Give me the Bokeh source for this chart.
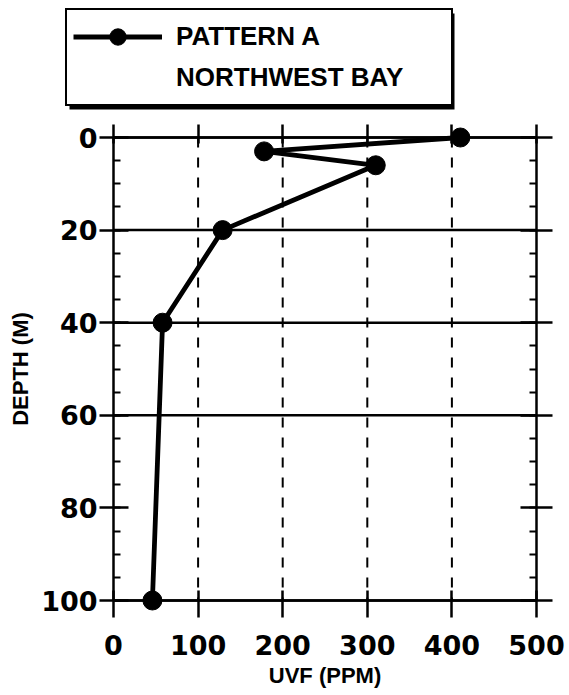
from bokeh.plotting import figure
from bokeh.models import (Range1d, LinearAxis, FixedTicker, SingleIntervalTicker, Legend,
                          LegendItem, BoxAnnotation, CustomJSTickFormatter)
from bokeh.embed import file_html
from bokeh.resources import INLINE

# ---- data ----
uvf = [410, 178, 310, 129, 58, 46]
depth = [0, 3, 6, 20, 40, 100]
x_ticks = [0, 100, 200, 300, 400, 500]
y_ticks = [0, 20, 40, 60, 80, 100]
y_grid = [0, 20, 40, 60, 100]
x_grid = [100, 200, 300, 400]
legend_lines = ["PATTERN A", "NORTHWEST BAY"]
x_label = "UVF (PPM)"
y_label = "DEPTH (M)"

W, H = 569, 695
# plot box (0..500, 0..100) placed at canvas px x 113..536, y 137..600
PX0, PX1, PY0, PY1 = 113, 536, 137, 600
sx = (PX1 - PX0) / 500.0
sy = (PY1 - PY0) / 100.0

p = figure(width=W, height=H, output_backend="svg", toolbar_location=None,
           x_axis_type=None, y_axis_type=None,
           x_range=Range1d(-PX0 / sx, 500 + (W - PX1) / sx),
           y_range=Range1d(100 + (H - PY1) / sy, -PY0 / sy),
           min_border=0)
p.outline_line_color = None
p.background_fill_color = "white"
p.border_fill_color = "white"

TICK_FONT = "DejaVu Sans"
LAB_FONT = "Liberation Sans"
blank = CustomJSTickFormatter(code="return ''")

xmin, xmax = x_ticks[0], x_ticks[-1]
ymin, ymax = y_ticks[0], y_ticks[-1]

# grid lines limited to the plot box
p.segment(x0=[xmin] * len(y_grid), x1=[xmax] * len(y_grid), y0=y_grid, y1=y_grid,
          line_color="black", line_width=2.5)
p.segment(x0=x_grid, x1=x_grid, y0=[ymin] * len(x_grid), y1=[ymax] * len(x_grid),
          line_color="black", line_width=2, line_dash="10 10")

# left axis
ya = LinearAxis(ticker=SingleIntervalTicker(interval=20, num_minor_ticks=4),
                fixed_location=xmin, bounds=(ymin, ymax),
                axis_line_width=2.5, major_tick_line_width=2.5,
                major_tick_out=14, major_tick_in=15, minor_tick_in=7, minor_tick_out=0,
                minor_tick_line_width=2,
                major_label_text_font=TICK_FONT, major_label_text_font_style="bold",
                major_label_text_font_size="27px", major_label_text_color="black",
                major_label_standoff=2,
                axis_label=y_label, axis_label_text_font=LAB_FONT,
                axis_label_text_font_style="bold", axis_label_text_font_size="22px",
                axis_label_text_color="black", axis_label_standoff=5)
p.add_layout(ya, "left")

# bottom axis
xa = LinearAxis(ticker=FixedTicker(ticks=x_ticks), fixed_location=ymax, bounds=(xmin, xmax),
                axis_line_width=2.5, major_tick_line_width=2.5,
                major_tick_out=17, major_tick_in=10, minor_tick_in=0, minor_tick_out=0,
                major_label_text_font=TICK_FONT, major_label_text_font_style="bold",
                major_label_text_font_size="27px", major_label_text_color="black",
                major_label_standoff=17,
                axis_label=x_label, axis_label_text_font=LAB_FONT,
                axis_label_text_font_style="bold", axis_label_text_font_size="22px",
                axis_label_text_color="black", axis_label_standoff=5)
p.add_layout(xa, "below")

# top axis (ticks only)
ta = LinearAxis(ticker=FixedTicker(ticks=x_ticks), formatter=blank, fixed_location=ymin,
                bounds=(xmin, xmax),
                axis_line_width=2.5, major_tick_line_width=2.5,
                major_tick_out=13, major_tick_in=6, minor_tick_in=0, minor_tick_out=0)
p.add_layout(ta, "above")

# right axis (ticks only)
ra = LinearAxis(ticker=SingleIntervalTicker(interval=20, num_minor_ticks=4), formatter=blank,
                fixed_location=xmax, bounds=(ymin, ymax),
                axis_line_width=2.5, major_tick_line_width=2.5,
                major_tick_out=16, major_tick_in=16, minor_tick_in=7, minor_tick_out=0,
                minor_tick_line_width=2)
p.add_layout(ra, "right")

# data
ln = p.line(uvf, depth, line_width=4.8, line_color="black", line_join="round")
pts = p.scatter(uvf, depth, size=19, fill_color="black", line_color="black")
dummy = p.line([], [], line_alpha=0)

# legend shadow
shadow = BoxAnnotation(left=69, right=454, top=13, bottom=109,
                       left_units="canvas", right_units="canvas",
                       top_units="canvas", bottom_units="canvas",
                       fill_color="black", fill_alpha=1, line_color=None, level="annotation")
p.add_layout(shadow)

legend = Legend(items=[LegendItem(label=legend_lines[0], renderers=[ln, pts]),
                       LegendItem(label=legend_lines[1], renderers=[dummy])],
                location=(65, H - 106),
                glyph_width=89, glyph_height=41, label_standoff=14, label_width=269,
                padding=6, spacing=0, margin=0,
                label_text_font=LAB_FONT, label_text_font_size="26px",
                label_text_font_style="bold", label_text_color="black",
                border_line_color="black", border_line_width=2.5, border_line_alpha=1,
                background_fill_color="white", background_fill_alpha=1)
p.add_layout(legend, "center")

open("out.html", "w").write(file_html(p, INLINE))
